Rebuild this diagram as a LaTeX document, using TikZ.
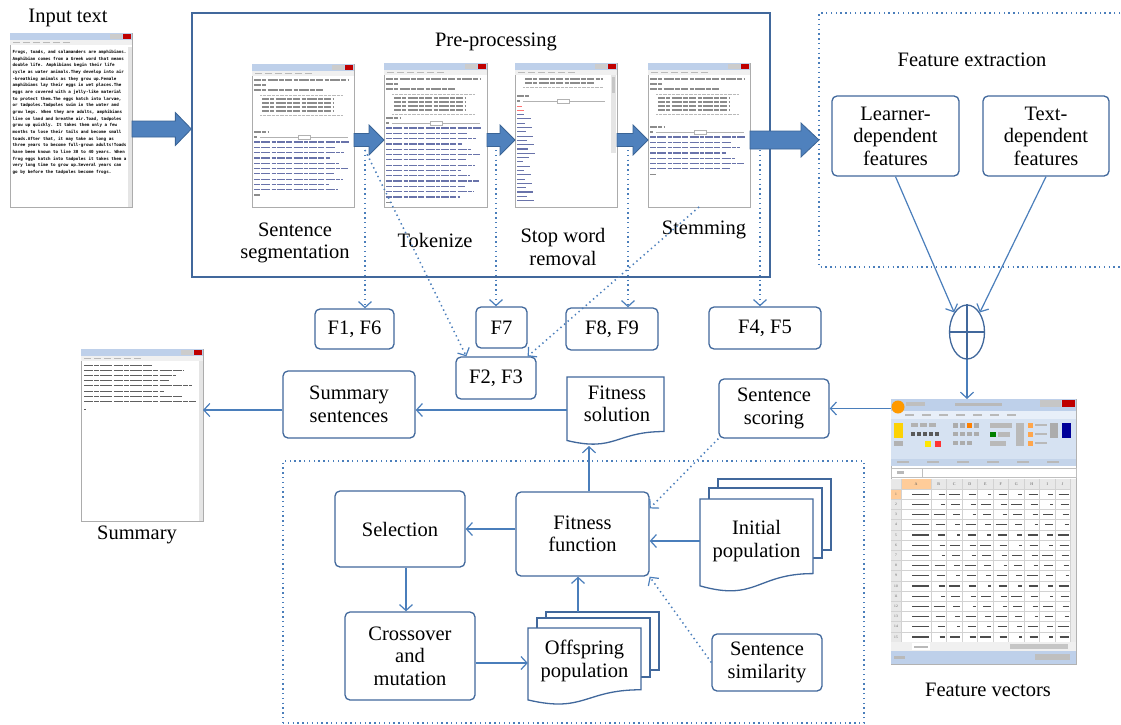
\documentclass[tikz,border=0pt]{standalone}
\usepackage{fontspec}
\setmainfont{Liberation Serif}
\newfontfamily\scrfont{DejaVu Sans Mono}
\usetikzlibrary{arrows.meta,shapes.geometric,calc}
\definecolor{boxc}{HTML}{41689C}
\definecolor{linec}{HTML}{4A7EBB}
\definecolor{blockf}{HTML}{4F81BD}
\definecolor{blockd}{HTML}{3A6496}
\definecolor{titleb}{RGB}{190,208,234}
\definecolor{tgray}{RGB}{140,140,140}
\definecolor{tblue}{RGB}{105,115,170}
\definecolor{ribbon}{RGB}{214,226,242}
\definecolor{ribbond}{RGB}{196,212,234}
\definecolor{tabrow}{RGB}{232,239,249}
\newcommand{\mytxt}{\fontsize{20.5}{22.5}\selectfont}
\tikzset{
  box/.style={draw=boxc, line width=1.3pt, rounded corners=5pt, fill=white, align=center, inner sep=0pt, font=\mytxt},
  plain/.style={align=center, inner sep=0pt, font=\mytxt},
  conn/.style={draw=linec, line width=1.2pt, -{Straight Barb[length=6pt,width=13pt]}},
  dotconn/.style={draw=linec, line width=1.5pt, dash pattern=on 1.4pt off 3.4pt, -{Straight Barb[length=6pt,width=13pt,line width=1.2pt]}},
  dotbox/.style={draw=linec, line width=1.5pt, dash pattern=on 1.4pt off 3.4pt},
  blockarrow/.style={fill=blockf, draw=blockd, line width=0.8pt},
  tl/.style={draw=tgray, line width=1.1pt, dash pattern=on 7pt off 1.3pt on 4pt off 1.3pt on 10pt off 1.3pt on 5pt off 1.3pt},
  tlb/.style={draw=tblue, line width=1.2pt, dash pattern=on 6pt off 1.3pt on 9pt off 1.3pt on 4pt off 1.3pt on 8pt off 1.3pt},
  doc/.style={draw=boxc, line width=1.3pt, fill=white},
  holder/.style={inner sep=0pt, outer sep=0pt},
}
\newcommand{\winframe}[4]{%
  \draw[draw=gray!65, fill=white, line width=0.7pt] (#1,#2) rectangle (#3,#4);
  \fill[titleb] (#1,#2) rectangle (#3,{#2+7});
  \fill[red!75!black] ({#3-9},{#2+1}) rectangle ({#3-1},{#2+6});
  \fill[gray!40] ({#3-22},{#2+1}) rectangle ({#3-10},{#2+6});
  \fill[gray!12] (#1,{#2+7}) rectangle (#3,{#2+12});
  \foreach \k in {0,...,5} \fill[gray!55] ({#1+3+\k*10},{#2+9}) rectangle ++(7,1.2);
}
\newcommand{\pyshell}[6]{%
  \winframe{#1}{#2}{#3}{#4}%
  \begin{scope}[shift={(#1,#2)}]
    \draw[tl] (2,16) -- (97,16);
    \draw[tl] (2,21) -- (14,21);
    \draw[tl] (2,26) -- (72,26);
    \draw[gray!55,line width=0.8pt,dash pattern=on 0.8pt off 0.5pt] (8,31) -- (90,31);
    \foreach \r in {35,39,43,47} \draw[tl] (10,\r) -- (82,\r);
    \draw[gray!55,line width=0.8pt,dash pattern=on 0.8pt off 0.5pt] (8,51) -- (90,51);
    \draw[tl] (2,{#5-10}) -- (16,{#5-10});
    \draw[tl] (2,{#5-5}) -- (5,{#5-5});
    \draw[gray!60,line width=0.6pt] (8,{#5-5}) -- (96,{#5-5});
    \draw[gray!60,fill=white,line width=0.5pt] (46,{#5-7}) rectangle (58,{#5-3});
    \foreach \j in {0,...,#6} \draw[tlb] (2,{#5+\j*5.3}) -- ({97-mod(\j*37,23)},{#5+\j*5.3});
    \draw[tl] (2,{#5+(#6+1)*5.3}) -- (8,{#5+(#6+1)*5.3});
  \end{scope}}
\newcommand{\barrow}[5]{%
  \path[blockarrow] let \p1=#1, \p2=#2 in
    ({\x1},{\y1+#3}) -- ({\x2-#5},{\y1+#3}) -- ({\x2-#5},{\y1+#4}) -- ({\x2},{\y1})
    -- ({\x2-#5},{\y1-#4}) -- ({\x2-#5},{\y1-#3}) -- ({\x1},{\y1-#3}) -- cycle;}
\newcommand{\docshape}[4]{%
  \path[doc] (#1,#2) -- (#3,#2) -- (#3,{#2+0.802*#4})
    .. controls ({(#1+#3)/2},{#2+0.802*#4}) and ({(#1+#3)/2},{#2+1.107*#4}) .. (#1,{#2+0.934*#4}) -- cycle;}
\begin{document}
\begin{tikzpicture}[x=1pt,y=-1pt]
\fill[white] (0,0) rectangle (1121,725);
\useasboundingbox (0,0) rectangle (1121,725);

% ---------- input text ----------
\node[plain] (inlabel) at (68,18) {Input text};
\node[holder, minimum width=122pt, minimum height=174pt] (inshot) at (71,120) {};
\winframe{10}{33}{132}{207}
\fill[gray!20] (128,47) rectangle (132,207);
\node[anchor=north west, inner sep=0pt, align=left, font=\fontsize{4.2}{6.65}\selectfont\scrfont\bfseries] (intext) at (12.5,50) {Frogs, toads, and salamanders are amphibians.\\
Amphibian comes from a Greek word that means\\
double life. Amphibians begin their life\\
cycle as water animals.They develop into air\\
-breathing animals as they grow up.Female\\
amphibians lay their eggs in wet places.The\\
eggs are covered with a jelly-like material\\
to protect them.The eggs hatch into larvae,\\
or tadpoles.Tadpoles swim in the water and\\
grow legs. When they are adults, amphibians\\
live on land and breathe air.Toad, tadpoles\\
grow up quickly. It takes them only a few\\
months to lose their tails and become small\\
toads.After that, it may take as long as\\
three years to become full-grown adults!Toads\\
have been known to live 30 to 40 years. When\\
frog eggs hatch into tadpoles it takes them a\\
very long time to grow up.Several years can\\
go by before the tadpoles become frogs.};

% ---------- pre-processing ----------
\node[draw=boxc, line width=1.3pt, minimum width=578pt, minimum height=264pt, inner sep=0pt] (pre) at (481,145) {};
\node[plain] (prelabel) at (496,42) {Pre-processing};
\node[holder, minimum width=102pt, minimum height=143pt] (s1) at (303,135.5) {};
\node[holder, minimum width=103pt, minimum height=144pt] (s2) at (435.5,135) {};
\node[holder, minimum width=102pt, minimum height=144pt] (s3) at (566,135) {};
\node[holder, minimum width=102pt, minimum height=144pt] (s4) at (699,135) {};
\pyshell{252}{64}{354}{207}{78}{9}
\pyshell{384}{63}{487}{207}{65}{13}
\pyshell{648}{63}{750}{207}{74}{6}
\winframe{515}{63}{617}{207}
\begin{scope}[shift={(515,63)}]
  \draw[tl] (10,16) -- (88,16);
  \draw[tl] (10,20) -- (80,20);
  \draw[gray!55,line width=0.8pt,dash pattern=on 0.8pt off 0.5pt] (8,24) -- (88,24);
  \draw[tl] (2,33) -- (14,33);
  \draw[tl] (2,38) -- (5,38);
  \draw[gray!60,line width=0.6pt] (8,38) -- (90,38);
  \draw[gray!60,fill=white,line width=0.5pt] (42,36) rectangle (54,40);
  \draw[red!55, line width=1.0pt] (2,43) -- (7,43);
  \draw[red!55, line width=1.0pt] (2,47.3) -- (9,47.3);
  \foreach \j in {2,...,22} \draw[tblue, line width=1.1pt] (2,{43+\j*4.3}) -- ({8+mod(\j*7,13)},{43+\j*4.3});
  \fill[gray!20] (96,12) rectangle (101,90);
  \fill[gray!45] (96.8,14) rectangle (100.2,30);
\end{scope}
\node[plain] (seglab) at (295,243) {Sentence\\segmentation};
\node[plain] (toklab) at (435,240) {Tokenize};
\node[plain] (stoplab) at (563,247) {Stop word\\removal};
\node[plain] (stemlab) at (704,230) {Stemming};

% ---------- feature extraction ----------
\node[holder, minimum width=306pt, minimum height=254pt] (fe) at (972,140) {};
\draw[dotbox] (fe.north east) -- (fe.north west) -- (fe.south west) -- (fe.south east);
\node[plain] (felab) at (972,60) {Feature extraction};
\node[box, minimum width=127pt, minimum height=80pt] (learner) at (895.5,136) {Learner-\\dependent\\features};
\node[box, minimum width=126pt, minimum height=80pt] (textdep) at (1046,136) {Text-\\dependent\\features};
\node[draw=boxc, line width=1.3pt, ellipse, minimum width=35pt, minimum height=54pt, inner sep=0pt] (oplus) at (967,332) {};
\draw[boxc, line width=1.3pt] (oplus.north) -- (oplus.south) (oplus.west) -- (oplus.east);

% ---------- block arrows ----------
\barrow{($(inshot.east)+(0,9)$)}{($(inshot.east -| pre.west)+(0,9)$)}{8}{16.5}{16}
\barrow{($(s1.east)+(0,4.5)$)}{($(s2.west)+(0,4.5)$)}{6.5}{15}{15}
\barrow{($(s2.east)+(0,5)$)}{($(s3.west)+(0,5)$)}{6.5}{15}{15}
\barrow{($(s3.east)+(0,5)$)}{($(s4.west)+(0,5)$)}{6.5}{15}{15}
\barrow{($(s4.east)+(0,5)$)}{($(s4.east -| fe.west)+(0,5)$)}{9}{17}{18}

% ---------- feature boxes ----------
\node[box, minimum width=79pt, minimum height=40pt] (F16) at (354.5,329) {F1, F6};
\node[box, minimum width=51pt, minimum height=41pt] (F7) at (501.5,327.5) {F7};
\node[box, minimum width=80pt, minimum height=42pt] (F23) at (496,378) {F2, F3};
\node[box, minimum width=92pt, minimum height=42pt] (F89) at (612,329) {F8, F9};
\node[box, minimum width=112pt, minimum height=42pt] (F45) at (765,328) {F4, F5};
\coordinate (d1) at (365,150);
\coordinate (d2) at (496,150);
\coordinate (d3) at (628,150);
\coordinate (d4) at (760,150);
\draw[dotconn] (d1) -- (d1 |- F16.north);
\draw[dotconn] (d2) -- (d2 |- F7.north);
\draw[dotconn] (d3) -- (d3 |- F89.north);
\draw[dotconn] (d4) -- (d4 |- F45.north);
\draw[dotconn] (d1) -- ($(F23.north west)+(11,0)$);
\draw[dotconn] (s4.south) -- ($(F23.north east)+(-9,0)$);

% ---------- feature vectors (spreadsheet) ----------
\node[holder, minimum width=185pt, minimum height=265pt] (fv) at (983.5,531.5) {};
\draw[gray!60, fill=white, line width=0.7pt] (891,399) rectangle (1076,664);
\fill[titleb] (891,399) rectangle (1076,411);
\fill[gray!55] (955,403) rectangle (1002,406);
\fill[red!75!black] (1062,400) rectangle (1075,407);
\fill[gray!45] (1040,400) rectangle (1061,407);
\fill[gray!50] (906,402) rectangle (925,406);
\fill[tabrow] (891,411) rectangle (1076,419);
\foreach \t in {0,...,6} \fill[gray!55] ({905+\t*17},414) rectangle ++(9,1.5);
\fill[ribbon] (891,419) rectangle (1076,466);
\fill[ribbond] (891,459) rectangle (1076,466);
\fill[orange!80!yellow] (898,407) circle (6.5);
\fill[yellow!70!orange] (894,423) rectangle (903,438);
\fill[gray!60] (894,441) rectangle (903,446);
\foreach \i in {0,...,2} \fill[gray!60] ({911+\i*9},423) rectangle ++(7,4);
\foreach \i in {0,...,4} \fill[gray!70!black] ({911+\i*6},432) rectangle ++(4,4);
\fill[yellow!90!orange] (925,441) rectangle (931,447);
\fill[red!80] (935,441) rectangle (941,447);
\foreach \i in {0,...,3} \fill[gray!65] ({953+\i*7},423) rectangle ++(5,5);
\fill[orange] (967,423) rectangle ++(5,5);
\foreach \i in {0,...,3} \fill[gray!65] ({953+\i*7},432) rectangle ++(5,4);
\foreach \i in {0,...,2} \fill[gray!65] ({953+\i*7},441) rectangle ++(5,4);
\fill[gray!55] (990,423) rectangle (1012,428);
\fill[green!50!black] (990,432) rectangle (996,437);
\fill[gray!55] (998,432) rectangle (1010,437);
\fill[gray!55] (990,441) rectangle (1006,446);
\fill[gray!55] (1016,423) rectangle (1024,446);
\foreach \i in {0,...,2} {\fill[orange!70] (1028,{423+\i*9}) rectangle ++(5,5); \fill[gray!55] (1035,{424+\i*9}) rectangle ++(12,2);}
\fill[gray!65] (1050,423) rectangle (1058,438);
\fill[blue!60!black] (1062,423) rectangle (1071,438);
\foreach \i in {0,...,5} \fill[gray!55] ({897+\i*30},461) rectangle ++(12,2);
\draw[gray!50, fill=white, line width=0.5pt] (891,468) rectangle (1076,477);
\draw[gray!50, line width=0.5pt] (922,468) -- (922,477);
\fill[gray!55] (897,471) rectangle (904,474);
\fill[gray!18] (891,479) rectangle (1071,489);
\fill[gray!18] (891,489) rectangle (901,642);
\fill[orange!40] (901,479) rectangle (931,489);
\fill[orange!40] (891,489) rectangle (901,499.2);
\foreach \r in {0,...,15} \draw[gray!35, line width=0.4pt] (891,{489+\r*10.2}) -- (1071,{489+\r*10.2});
\draw[gray!35, line width=0.4pt] (901,479) -- (901,642);
\foreach \c in {0,...,9} \draw[gray!35, line width=0.4pt] ({931+\c*15.5},479) -- ({931+\c*15.5},642);
\foreach \c/\l in {1/B,2/C,3/D,4/E,5/F,6/G,7/H,8/I,9/J}
  \node[inner sep=0pt, font=\fontsize{4}{4}\selectfont, text=gray!70!black] (col\l) at ({931+(\c-0.5)*15.5},484) {\l};
\node[inner sep=0pt, font=\fontsize{4}{4}\selectfont, text=gray!70!black] (colA) at (916,484) {A};
\foreach \r in {1,...,15}
  \node[inner sep=0pt, font=\fontsize{3.6}{4}\selectfont, text=gray!70!black] (row\r) at (896,{489+(\r-0.5)*10.2}) {\r};
\foreach \r in {1,...,15} {
  \foreach \c in {0,...,9} {
    \pgfmathsetmacro{\xr}{\c==0 ? 929 : 929+\c*15.5}
    \pgfmathsetmacro{\len}{\c==0 ? 17 : 3+mod(\r*7+\c*5,9)}
    \draw[gray!60!black, line width=1.2pt] ({\xr-\len},{489+(\r-0.5)*10.2}) -- ({\xr},{489+(\r-0.5)*10.2});
  }
}
\fill[gray!15] (1071,479) rectangle (1076,642);
\fill[gray!12] (891,642) rectangle (1076,651);
\fill[white] (912,643) rectangle (930,650);
\fill[gray!55] (914,645.5) rectangle (928,647.5);
\fill[gray!45] (1010,644) rectangle (1068,649);
\fill[titleb] (891,651) rectangle (1076,664);
\fill[gray!55] (894,656) rectangle (905,658.5);
\fill[gray!50] (1035,654) rectangle (1070,660);
\node[plain] (fvlab) at (988,690) {Feature vectors};

% ---------- summary ----------
\node[holder, minimum width=122pt, minimum height=172pt] (summshot) at (142,435) {};
\winframe{81}{349}{203}{521}
\foreach \j/\l in {0/68,1/100,2/92,3/85,4/108,5/80,6/98,7/112}
  \draw[gray!75!black, line width=0.8pt, dash pattern=on 9pt off 1.2pt on 5pt off 1.2pt on 12pt off 1.2pt] (84,{365+\j*5.2}) -- ({84+\l},{365+\j*5.2});
\draw[gray!70!black, line width=0.8pt] (84,409) -- (86,409);
\fill[gray!20] (199,361) rectangle (203,521);
\node[plain] (summlab) at (137,535) {Summary};
\node[box, minimum width=132pt, minimum height=67pt] (summsent) at (349,404.5) {Summary\\sentences};

\node[holder, minimum width=97pt, minimum height=56pt] (fitsol) at (615.5,410) {};
\docshape{567}{377}{664}{68}
\node[plain] (fitsollab) at (617,404) {Fitness\\solution};
\node[box, minimum width=110pt, minimum height=59pt] (sentscore) at (774,408.5) {Sentence\\scoring};

% ---------- genetic algorithm ----------
\node[dotbox, minimum width=581pt, minimum height=262pt, inner sep=0pt] (ga) at (573.5,592) {};
\node[box, minimum width=130pt, minimum height=76pt] (sel) at (400,529) {Selection};
\node[box, minimum width=133pt, minimum height=84pt] (fitfun) at (582.5,534) {Fitness\\function};
\node[box, minimum width=130pt, minimum height=88pt] (cross) at (410,656) {Crossover\\and\\mutation};
\path[doc] (546,612) rectangle (659,670);
\path[doc] (537,618) rectangle (650,677);
\docshape{528}{628}{641}{77}
\node[plain, minimum width=113pt, minimum height=60pt] (off) at (584.5,661) {Offspring\\population};
\path[doc] (718,479) rectangle (831,550);
\path[doc] (709,488) rectangle (822,558);
\docshape{700}{499}{813}{93}
\node[plain, minimum width=113pt, minimum height=70pt] (init) at (756.5,541) {Initial\\population};
\node[box, minimum width=110pt, minimum height=57pt] (sentsim) at (767,662.5) {Sentence\\similarity};

% ---------- connectors ----------
\draw[conn] (learner.south) -- (oplus.north west);
\draw[conn] (textdep.south) -- (oplus.north east);
\draw[conn] (oplus.south) -- (oplus.south |- fv.north);
\draw[conn] (sentscore.east -| fv.west) -- (sentscore.east);
\draw[conn] (fitsol.west) -- (fitsol.west -| summsent.east);
\draw[conn] (fitsol.west -| summsent.west) -- (fitsol.west -| summshot.east);
\coordinate (fsb) at (589,446);
\draw[conn] (fsb |- fitfun.north) -- (fsb);
\draw[conn] (sel.east -| fitfun.west) -- (sel.east);
\coordinate (sc) at ($(sel.south)+(6,0)$);
\draw[conn] (sc) -- (sc |- cross.north);
\coordinate (co) at ($(cross.east)+(0,7)$);
\draw[conn] (co) -- (co -| off.west);
\coordinate (ot) at (578,612);
\draw[conn] (ot) -- (ot |- fitfun.south);
\draw[conn] (init.west) -- (init.west -| fitfun.east);
\draw[dotconn] (sentsim.west) -- (fitfun.south east);
\draw[dotconn] (sentscore.south west) -- ($(fitfun.north east)!0.2!(fitfun.south east)$);
\end{tikzpicture}
\end{document}
